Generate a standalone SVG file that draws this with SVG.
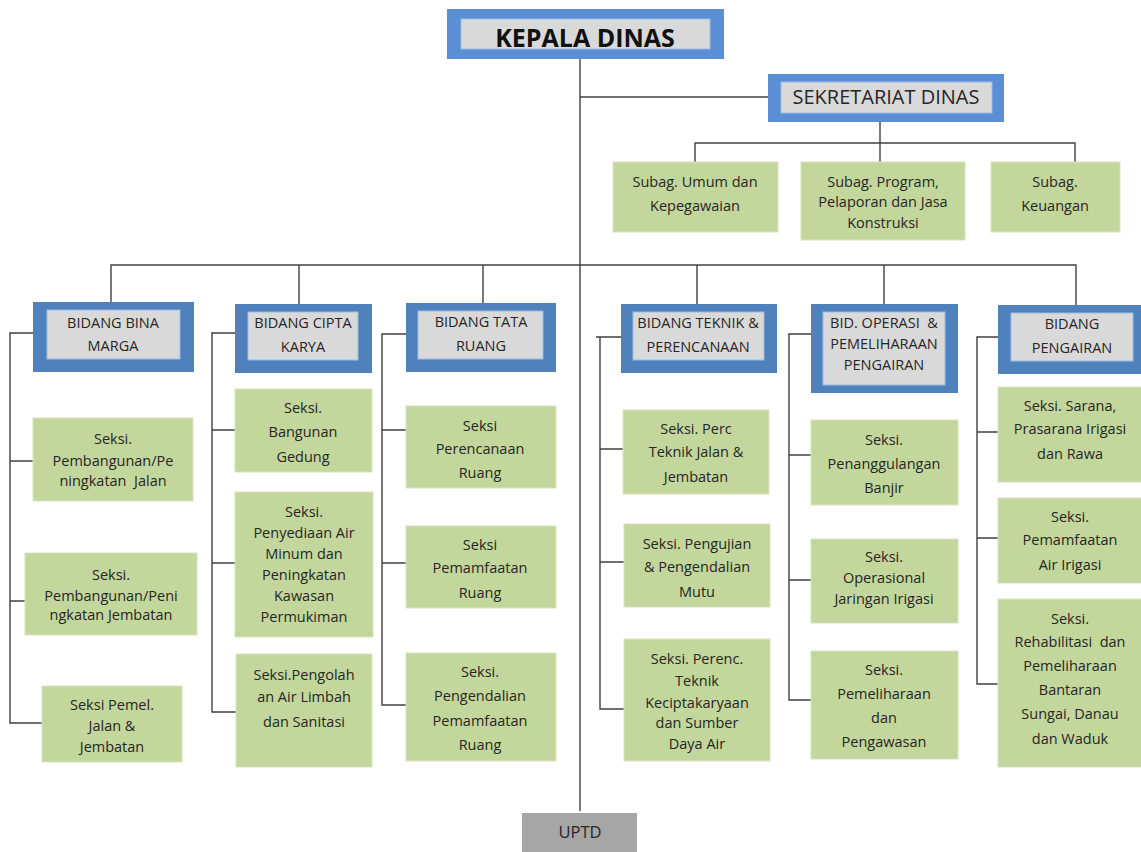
<svg xmlns="http://www.w3.org/2000/svg" width="1141" height="852" viewBox="0 0 1141 852">
<style>
.bg{fill:#ffffff}
.outer{fill:#5a8fd5}
.outerB{fill:#4f81bd}
.inner{fill:#d9d9d9;stroke:#9dbbe3;stroke-width:1}
.green{fill:#c3d69b;stroke:#d7e4bd;stroke-width:1}
.uptd{fill:#a6a6a6}
.t{font-family:"Open Sans","Noto Sans","Liberation Sans",sans-serif;font-size:14.5px;fill:#262626;text-anchor:middle;white-space:pre}
.kd{font-family:"Open Sans","Liberation Sans",sans-serif;font-weight:bold;font-size:25px;fill:#111111;text-anchor:middle}
.sd{font-family:"Open Sans","Liberation Sans",sans-serif;font-size:20px;fill:#262626;text-anchor:middle}
.ln{fill:none;stroke:#404040;stroke-width:1.4}
</style>
<rect class="bg" x="0" y="0" width="1141" height="852"/>

<g id="connectors">
<path class="ln" d="M580 59 V811"/>
<path class="ln" d="M580 97 H768"/>
<path class="ln" d="M880 122 V162"/>
<path class="ln" d="M695 162 V143 H1075 V162"/>
<path class="ln" d="M111 302 V265 H1076 V305"/>
<path class="ln" d="M299 265 V304 M483 265 V303 M697 265 V304 M884 265 V304"/>
<path class="ln" d="M33 333 H10 V723 H42 M10 461 H33 M10 601 H25"/>
<path class="ln" d="M235 333 H212 V712 H236 M212 430 H235 M212 563 H235"/>
<path class="ln" d="M406 334 H382 V705 H406 M382 430 H406 M382 563 H406"/>
<path class="ln" d="M621 337 H596 M600 337 V709 H624 M600 449 H623 M600 562 H624"/>
<path class="ln" d="M811 334 H789 V700 H811 M789 455 H811 M789 580 H811"/>
<path class="ln" d="M998 337 H977 V684 H998 M977 432 H998 M977 538 H998"/>
</g>

<g id="kepala-dinas">
<rect class="outer" x="447" y="9" width="277" height="50"/>
<rect class="inner" x="461" y="19" width="249" height="30"/>
<text class="kd" x="585" y="47">KEPALA DINAS</text>
</g>

<g id="sekretariat">
<rect class="outer" x="768" y="74" width="236" height="48"/>
<rect class="inner" x="781" y="82" width="211" height="31"/>
<text class="sd" x="886" y="104">SEKRETARIAT DINAS</text>
</g>

<g id="subag-umum">
<rect class="green" x="613" y="162" width="165" height="70"/>
<text class="t" x="695" y="187">Subag. Umum dan</text>
<text class="t" x="695" y="211">Kepegawaian</text>
</g>
<g id="subag-program">
<rect class="green" x="801" y="162" width="164" height="78"/>
<text class="t" x="883" y="187">Subag. Program,</text>
<text class="t" x="883" y="207">Pelaporan dan Jasa</text>
<text class="t" x="883" y="228">Konstruksi</text>
</g>
<g id="subag-keuangan">
<rect class="green" x="991" y="162" width="129" height="70"/>
<text class="t" x="1055" y="187">Subag.</text>
<text class="t" x="1055" y="211">Keuangan</text>
</g>

<g id="bidang-bina-marga">
<rect class="outerB" x="33" y="302" width="161" height="70"/>
<rect class="inner" x="47" y="310" width="133" height="49"/>
<text class="t" x="113" y="328">BIDANG BINA</text>
<text class="t" x="113" y="351">MARGA</text>
</g>
<g id="seksi-bm-1">
<rect class="green" x="33" y="418" width="160" height="83"/>
<text class="t" x="113" y="444">Seksi.</text>
<text class="t" x="113" y="466">Pembangunan/Pe</text>
<text class="t" x="113" y="486">ningkatan  Jalan</text>
</g>
<g id="seksi-bm-2">
<rect class="green" x="25" y="553" width="172" height="82"/>
<text class="t" x="111" y="580">Seksi.</text>
<text class="t" x="111" y="601">Pembangunan/Peni</text>
<text class="t" x="111" y="620">ngkatan Jembatan</text>
</g>
<g id="seksi-bm-3">
<rect class="green" x="42" y="686" width="140" height="76"/>
<text class="t" x="112" y="710">Seksi Pemel.</text>
<text class="t" x="112" y="731">Jalan &amp;</text>
<text class="t" x="112" y="752">Jembatan</text>
</g>

<g id="bidang-cipta-karya">
<rect class="outerB" x="235" y="304" width="137" height="69"/>
<rect class="inner" x="248" y="312" width="110" height="48"/>
<text class="t" x="303" y="328">BIDANG CIPTA</text>
<text class="t" x="303" y="352">KARYA</text>
</g>
<g id="seksi-ck-1">
<rect class="green" x="235" y="389" width="137" height="83"/>
<text class="t" x="303" y="413">Seksi.</text>
<text class="t" x="303" y="437">Bangunan</text>
<text class="t" x="303" y="462">Gedung</text>
</g>
<g id="seksi-ck-2">
<rect class="green" x="235" y="492" width="138" height="145"/>
<text class="t" x="304" y="517">Seksi.</text>
<text class="t" x="304" y="538">Penyediaan Air</text>
<text class="t" x="304" y="559">Minum dan</text>
<text class="t" x="304" y="580">Peningkatan</text>
<text class="t" x="304" y="601">Kawasan</text>
<text class="t" x="304" y="622">Permukiman</text>
</g>
<g id="seksi-ck-3">
<rect class="green" x="236" y="654" width="136" height="113"/>
<text class="t" x="304" y="680">Seksi.Pengolah</text>
<text class="t" x="304" y="702">an Air Limbah</text>
<text class="t" x="304" y="727">dan Sanitasi</text>
</g>

<g id="bidang-tata-ruang">
<rect class="outerB" x="406" y="303" width="150" height="69"/>
<rect class="inner" x="418" y="311" width="125" height="48"/>
<text class="t" x="481" y="327">BIDANG TATA</text>
<text class="t" x="481" y="351">RUANG</text>
</g>
<g id="seksi-tr-1">
<rect class="green" x="406" y="406" width="150" height="82"/>
<text class="t" x="480" y="431">Seksi</text>
<text class="t" x="480" y="454">Perencanaan</text>
<text class="t" x="480" y="478">Ruang</text>
</g>
<g id="seksi-tr-2">
<rect class="green" x="406" y="526" width="150" height="82"/>
<text class="t" x="480" y="550">Seksi</text>
<text class="t" x="480" y="573">Pemamfaatan</text>
<text class="t" x="480" y="598">Ruang</text>
</g>
<g id="seksi-tr-3">
<rect class="green" x="406" y="653" width="150" height="108"/>
<text class="t" x="480" y="677">Seksi.</text>
<text class="t" x="480" y="701">Pengendalian</text>
<text class="t" x="480" y="726">Pemamfaatan</text>
<text class="t" x="480" y="750">Ruang</text>
</g>

<g id="bidang-teknik">
<rect class="outerB" x="621" y="304" width="156" height="69"/>
<rect class="inner" x="633" y="312" width="131" height="48"/>
<text class="t" x="698" y="328">BIDANG TEKNIK &amp;</text>
<text class="t" x="698" y="352">PERENCANAAN</text>
</g>
<g id="seksi-tp-1">
<rect class="green" x="623" y="410" width="146" height="84"/>
<text class="t" x="696" y="434">Seksi. Perc</text>
<text class="t" x="696" y="457">Teknik Jalan &amp;</text>
<text class="t" x="696" y="482">Jembatan</text>
</g>
<g id="seksi-tp-2">
<rect class="green" x="624" y="524" width="146" height="83"/>
<text class="t" x="697" y="549">Seksi. Pengujian</text>
<text class="t" x="697" y="572">&amp; Pengendalian</text>
<text class="t" x="697" y="597">Mutu</text>
</g>
<g id="seksi-tp-3">
<rect class="green" x="624" y="639" width="146" height="122"/>
<text class="t" x="697" y="664">Seksi. Perenc.</text>
<text class="t" x="697" y="686">Teknik</text>
<text class="t" x="697" y="708">Keciptakaryaan</text>
<text class="t" x="697" y="728">dan Sumber</text>
<text class="t" x="697" y="749">Daya Air</text>
</g>

<g id="bidang-operasi">
<rect class="outerB" x="811" y="304" width="147" height="89"/>
<rect class="inner" x="823" y="312" width="122" height="73"/>
<text class="t" x="884" y="328">BID. OPERASI  &amp;</text>
<text class="t" x="884" y="349">PEMELIHARAAN</text>
<text class="t" x="884" y="370">PENGAIRAN</text>
</g>
<g id="seksi-op-1">
<rect class="green" x="811" y="420" width="147" height="85"/>
<text class="t" x="884" y="445">Seksi.</text>
<text class="t" x="884" y="469">Penanggulangan</text>
<text class="t" x="884" y="493">Banjir</text>
</g>
<g id="seksi-op-2">
<rect class="green" x="811" y="539" width="147" height="84"/>
<text class="t" x="884" y="562">Seksi.</text>
<text class="t" x="884" y="583">Operasional</text>
<text class="t" x="884" y="604">Jaringan Irigasi</text>
</g>
<g id="seksi-op-3">
<rect class="green" x="811" y="651" width="147" height="108"/>
<text class="t" x="884" y="675">Seksi.</text>
<text class="t" x="884" y="699">Pemeliharaan</text>
<text class="t" x="884" y="723">dan</text>
<text class="t" x="884" y="747">Pengawasan</text>
</g>

<g id="bidang-pengairan">
<rect class="outerB" x="998" y="305" width="145" height="69"/>
<rect class="inner" x="1011" y="313" width="122" height="48"/>
<text class="t" x="1072" y="329">BIDANG</text>
<text class="t" x="1072" y="353">PENGAIRAN</text>
</g>
<g id="seksi-pg-1">
<rect class="green" x="998" y="387" width="145" height="95"/>
<text class="t" x="1070" y="411">Seksi. Sarana,</text>
<text class="t" x="1070" y="434">Prasarana Irigasi</text>
<text class="t" x="1070" y="459">dan Rawa</text>
</g>
<g id="seksi-pg-2">
<rect class="green" x="998" y="498" width="145" height="85"/>
<text class="t" x="1070" y="522">Seksi.</text>
<text class="t" x="1070" y="545">Pemamfaatan</text>
<text class="t" x="1070" y="570">Air Irigasi</text>
</g>
<g id="seksi-pg-3">
<rect class="green" x="998" y="599" width="145" height="168"/>
<text class="t" x="1070" y="624">Seksi.</text>
<text class="t" x="1070" y="647">Rehabilitasi  dan</text>
<text class="t" x="1070" y="671">Pemeliharaan</text>
<text class="t" x="1070" y="695">Bantaran</text>
<text class="t" x="1070" y="719">Sungai, Danau</text>
<text class="t" x="1070" y="744">dan Waduk</text>
</g>

<g id="uptd">
<rect class="uptd" x="522" y="813" width="115" height="45"/>
<text class="t" x="580" y="838" style="font-size:16.5px">UPTD</text>
</g>
</svg>
